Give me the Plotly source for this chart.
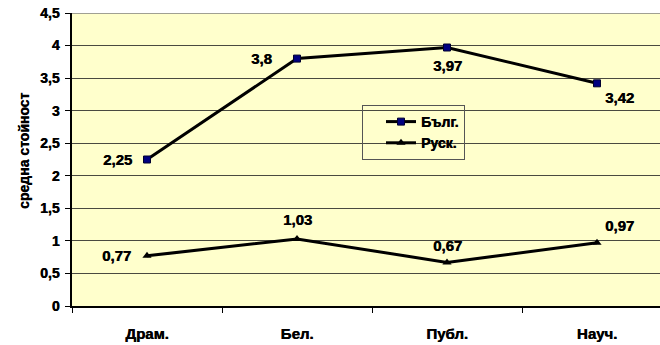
import plotly.graph_objects as go

# Genre categories and mean scores per language group
categories = ["Драм.", "Бел.", "Публ.", "Науч."]
bulg = [2.25, 3.8, 3.97, 3.42]
rusk = [0.77, 1.03, 0.67, 0.97]
y_ticks = [0, 0.5, 1, 1.5, 2, 2.5, 3, 3.5, 4, 4.5]

FONT = "Liberation Sans, Arial, sans-serif"
SHADOW = "0.5px 0 0 black"
W, H = 660, 345
L, T, B = 72, 13, 39
xs = list(range(len(categories)))


def fmt(v):
    return ("%g" % v).replace(".", ",")


def bold(size):
    return dict(family=FONT, size=size, color="black", weight="bold", shadow=SHADOW)


fig = go.Figure()
fig.add_trace(go.Scatter(
    x=xs, y=bulg, name="Бълг.", mode="lines+markers",
    line=dict(color="black", width=3),
    marker=dict(symbol="square", size=7, color="#000080",
                line=dict(color="#000030", width=1)),
))
fig.add_trace(go.Scatter(
    x=xs, y=rusk, name="Руск.", mode="lines+markers",
    line=dict(color="black", width=3),
    marker=dict(symbol="triangle-up", size=8, color="black"),
))

# value labels: (xshift, yshift) for each point
b_off = [(-30, 0), (-36, 0), (0, -18), (22, -14)]
r_off = [(-31, 0), (0, 19), (0, 17), (22, 17)]
for i, (v, (dx, dy)) in enumerate(zip(bulg, b_off)):
    fig.add_annotation(x=i, y=v, text=fmt(v), showarrow=False,
                       xshift=dx, yshift=dy, font=bold(15))
for i, (v, (dx, dy)) in enumerate(zip(rusk, r_off)):
    fig.add_annotation(x=i, y=v, text=fmt(v), showarrow=False,
                       xshift=dx, yshift=dy, font=bold(15))

plot_w = W - L
plot_h = H - T - B
x_right = -0.5 + plot_w / 150.0

fig.add_annotation(xref="paper", yref="paper", x=(14 - L) / plot_w,
                   y=1 - (151 - T) / plot_h, yanchor="middle",
                   text="средна стойност", textangle=-90, showarrow=False,
                   font=bold(14))

fig.update_layout(
    width=W, height=H,
    margin=dict(l=L, r=0, t=T, b=B, pad=0),
    paper_bgcolor="white",
    plot_bgcolor="#FFFFCC",
    separators=", ",
    showlegend=True,
    legend=dict(
        x=(362 - L) / plot_w, y=1 - (105 - T) / plot_h,
        xanchor="left", yanchor="top",
        bgcolor="rgba(0,0,0,0)", bordercolor="#555555", borderwidth=1,
        font=bold(14),
        itemwidth=30, tracegroupgap=0, indentation=18,
    ),
    xaxis=dict(
        range=[-0.5, x_right],
        tickvals=xs, ticktext=categories,
        ticks="", showgrid=False, zeroline=False,
        showline=True, linecolor="black", linewidth=1.5,
        ticklabelstandoff=13,
        tickfont=bold(15),
        minor=dict(tick0=-0.5, dtick=1, ticks="outside", ticklen=5,
                   tickcolor="black", showgrid=False),
    ),
    yaxis=dict(
        range=[0, 4.5], tickvals=y_ticks,
        ticks="outside", ticklen=5, tickcolor="black",
        showgrid=True, gridcolor="#4a4a40", gridwidth=1,
        zeroline=False,
        showline=True, linecolor="black", linewidth=1.5,
        ticklabelstandoff=3,
        tickfont=bold(14),
    ),
)

# grey frame along the top of the plotting area
fig.add_shape(type="line", xref="paper", yref="y", x0=0, x1=1, y0=4.5, y1=4.5,
              line=dict(color="#808080", width=1.5))

fig.write_html("out.html")
